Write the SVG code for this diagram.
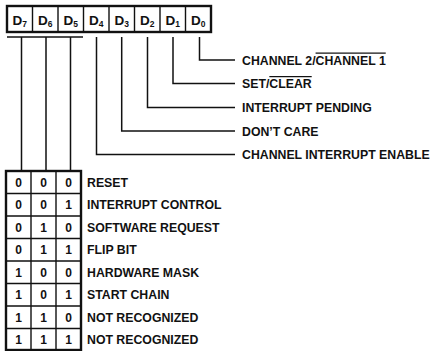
<svg xmlns="http://www.w3.org/2000/svg" width="430" height="351" viewBox="0 0 430 351">
<style>
text{font-family:"Liberation Sans",Arial,Helvetica,sans-serif;font-weight:bold;fill:#111;}
.lbl{font-size:12.3px;}
.reg{font-size:13.5px;text-anchor:middle;}
.sub{font-size:8.5px;}
.bit{font-size:12px;text-anchor:middle;}
.box{fill:none;stroke:#111;stroke-width:2.4;}
.div{stroke:#111;stroke-width:1.4;fill:none;}
.con{stroke:#111;stroke-width:1.5;fill:none;}
.ov{text-decoration:overline;}
</style>
<rect width="430" height="351" fill="#fff"/>
<g id="register">
<rect class="box" x="7" y="6" width="204" height="26"/>
<path class="div" d="M32.5 6V32M58 6V32M83.5 6V32M109 6V32M134.5 6V32M160 6V32M185.5 6V32"/>
<text class="reg" x="19.75" y="24.5">D<tspan class="sub" dy="2.5">7</tspan></text>
<text class="reg" x="45.25" y="24.5">D<tspan class="sub" dy="2.5">6</tspan></text>
<text class="reg" x="70.75" y="24.5">D<tspan class="sub" dy="2.5">5</tspan></text>
<text class="reg" x="96.25" y="24.5">D<tspan class="sub" dy="2.5">4</tspan></text>
<text class="reg" x="121.75" y="24.5">D<tspan class="sub" dy="2.5">3</tspan></text>
<text class="reg" x="147.25" y="24.5">D<tspan class="sub" dy="2.5">2</tspan></text>
<text class="reg" x="172.75" y="24.5">D<tspan class="sub" dy="2.5">1</tspan></text>
<text class="reg" x="198.25" y="24.5">D<tspan class="sub" dy="2.5">0</tspan></text>
</g>
<g id="connectors">
<path class="con" d="M7 37H83"/>
<path class="con" d="M21.5 37V171M46 37V171M70.5 37V171"/>
<path class="con" d="M199.5 37V60H235"/>
<path class="con" d="M173 37V83.5H235"/>
<path class="con" d="M147.5 37V107.5H235"/>
<path class="con" d="M121.7 37V131H235"/>
<path class="con" d="M96.5 37V154.5H235"/>
</g>
<g id="label-d0"><text class="lbl" x="242" y="64.5">CHANNEL 2/<tspan class="ov">CHANNEL 1</tspan></text></g>
<g id="label-d1"><text class="lbl" x="242" y="88">SET/<tspan class="ov">CLEAR</tspan></text></g>
<g id="label-d2"><text class="lbl" x="242" y="112">INTERRUPT PENDING</text></g>
<g id="label-d3"><text class="lbl" x="242" y="135.5">DON’T CARE</text></g>
<g id="label-d4"><text class="lbl" x="242" y="159">CHANNEL INTERRUPT ENABLE</text></g>
<g id="table">
<rect class="box" x="6" y="171" width="75" height="179"/>
<path class="div" d="M31 171V350M56 171V350M6 193.5H81M6 216H81M6 238.5H81M6 261H81M6 283.5H81M6 306H81M6 328.5H81"/>
<text class="bit" x="18.5" y="186.5">0</text><text class="bit" x="43.5" y="186.5">0</text><text class="bit" x="68.5" y="186.5">0</text>
<text class="bit" x="18.5" y="209">0</text><text class="bit" x="43.5" y="209">0</text><text class="bit" x="68.5" y="209">1</text>
<text class="bit" x="18.5" y="231.5">0</text><text class="bit" x="43.5" y="231.5">1</text><text class="bit" x="68.5" y="231.5">0</text>
<text class="bit" x="18.5" y="254">0</text><text class="bit" x="43.5" y="254">1</text><text class="bit" x="68.5" y="254">1</text>
<text class="bit" x="18.5" y="276.5">1</text><text class="bit" x="43.5" y="276.5">0</text><text class="bit" x="68.5" y="276.5">0</text>
<text class="bit" x="18.5" y="299">1</text><text class="bit" x="43.5" y="299">0</text><text class="bit" x="68.5" y="299">1</text>
<text class="bit" x="18.5" y="321.5">1</text><text class="bit" x="43.5" y="321.5">1</text><text class="bit" x="68.5" y="321.5">0</text>
<text class="bit" x="18.5" y="344">1</text><text class="bit" x="43.5" y="344">1</text><text class="bit" x="68.5" y="344">1</text>
</g>
<g id="row-labels">
<text class="lbl" x="87" y="186.5">RESET</text>
<text class="lbl" x="87" y="209">INTERRUPT CONTROL</text>
<text class="lbl" x="87" y="231.5">SOFTWARE REQUEST</text>
<text class="lbl" x="87" y="254">FLIP BIT</text>
<text class="lbl" x="87" y="276.5">HARDWARE MASK</text>
<text class="lbl" x="87" y="299">START CHAIN</text>
<text class="lbl" x="87" y="321.5">NOT RECOGNIZED</text>
<text class="lbl" x="87" y="344">NOT RECOGNIZED</text>
</g>
</svg>
